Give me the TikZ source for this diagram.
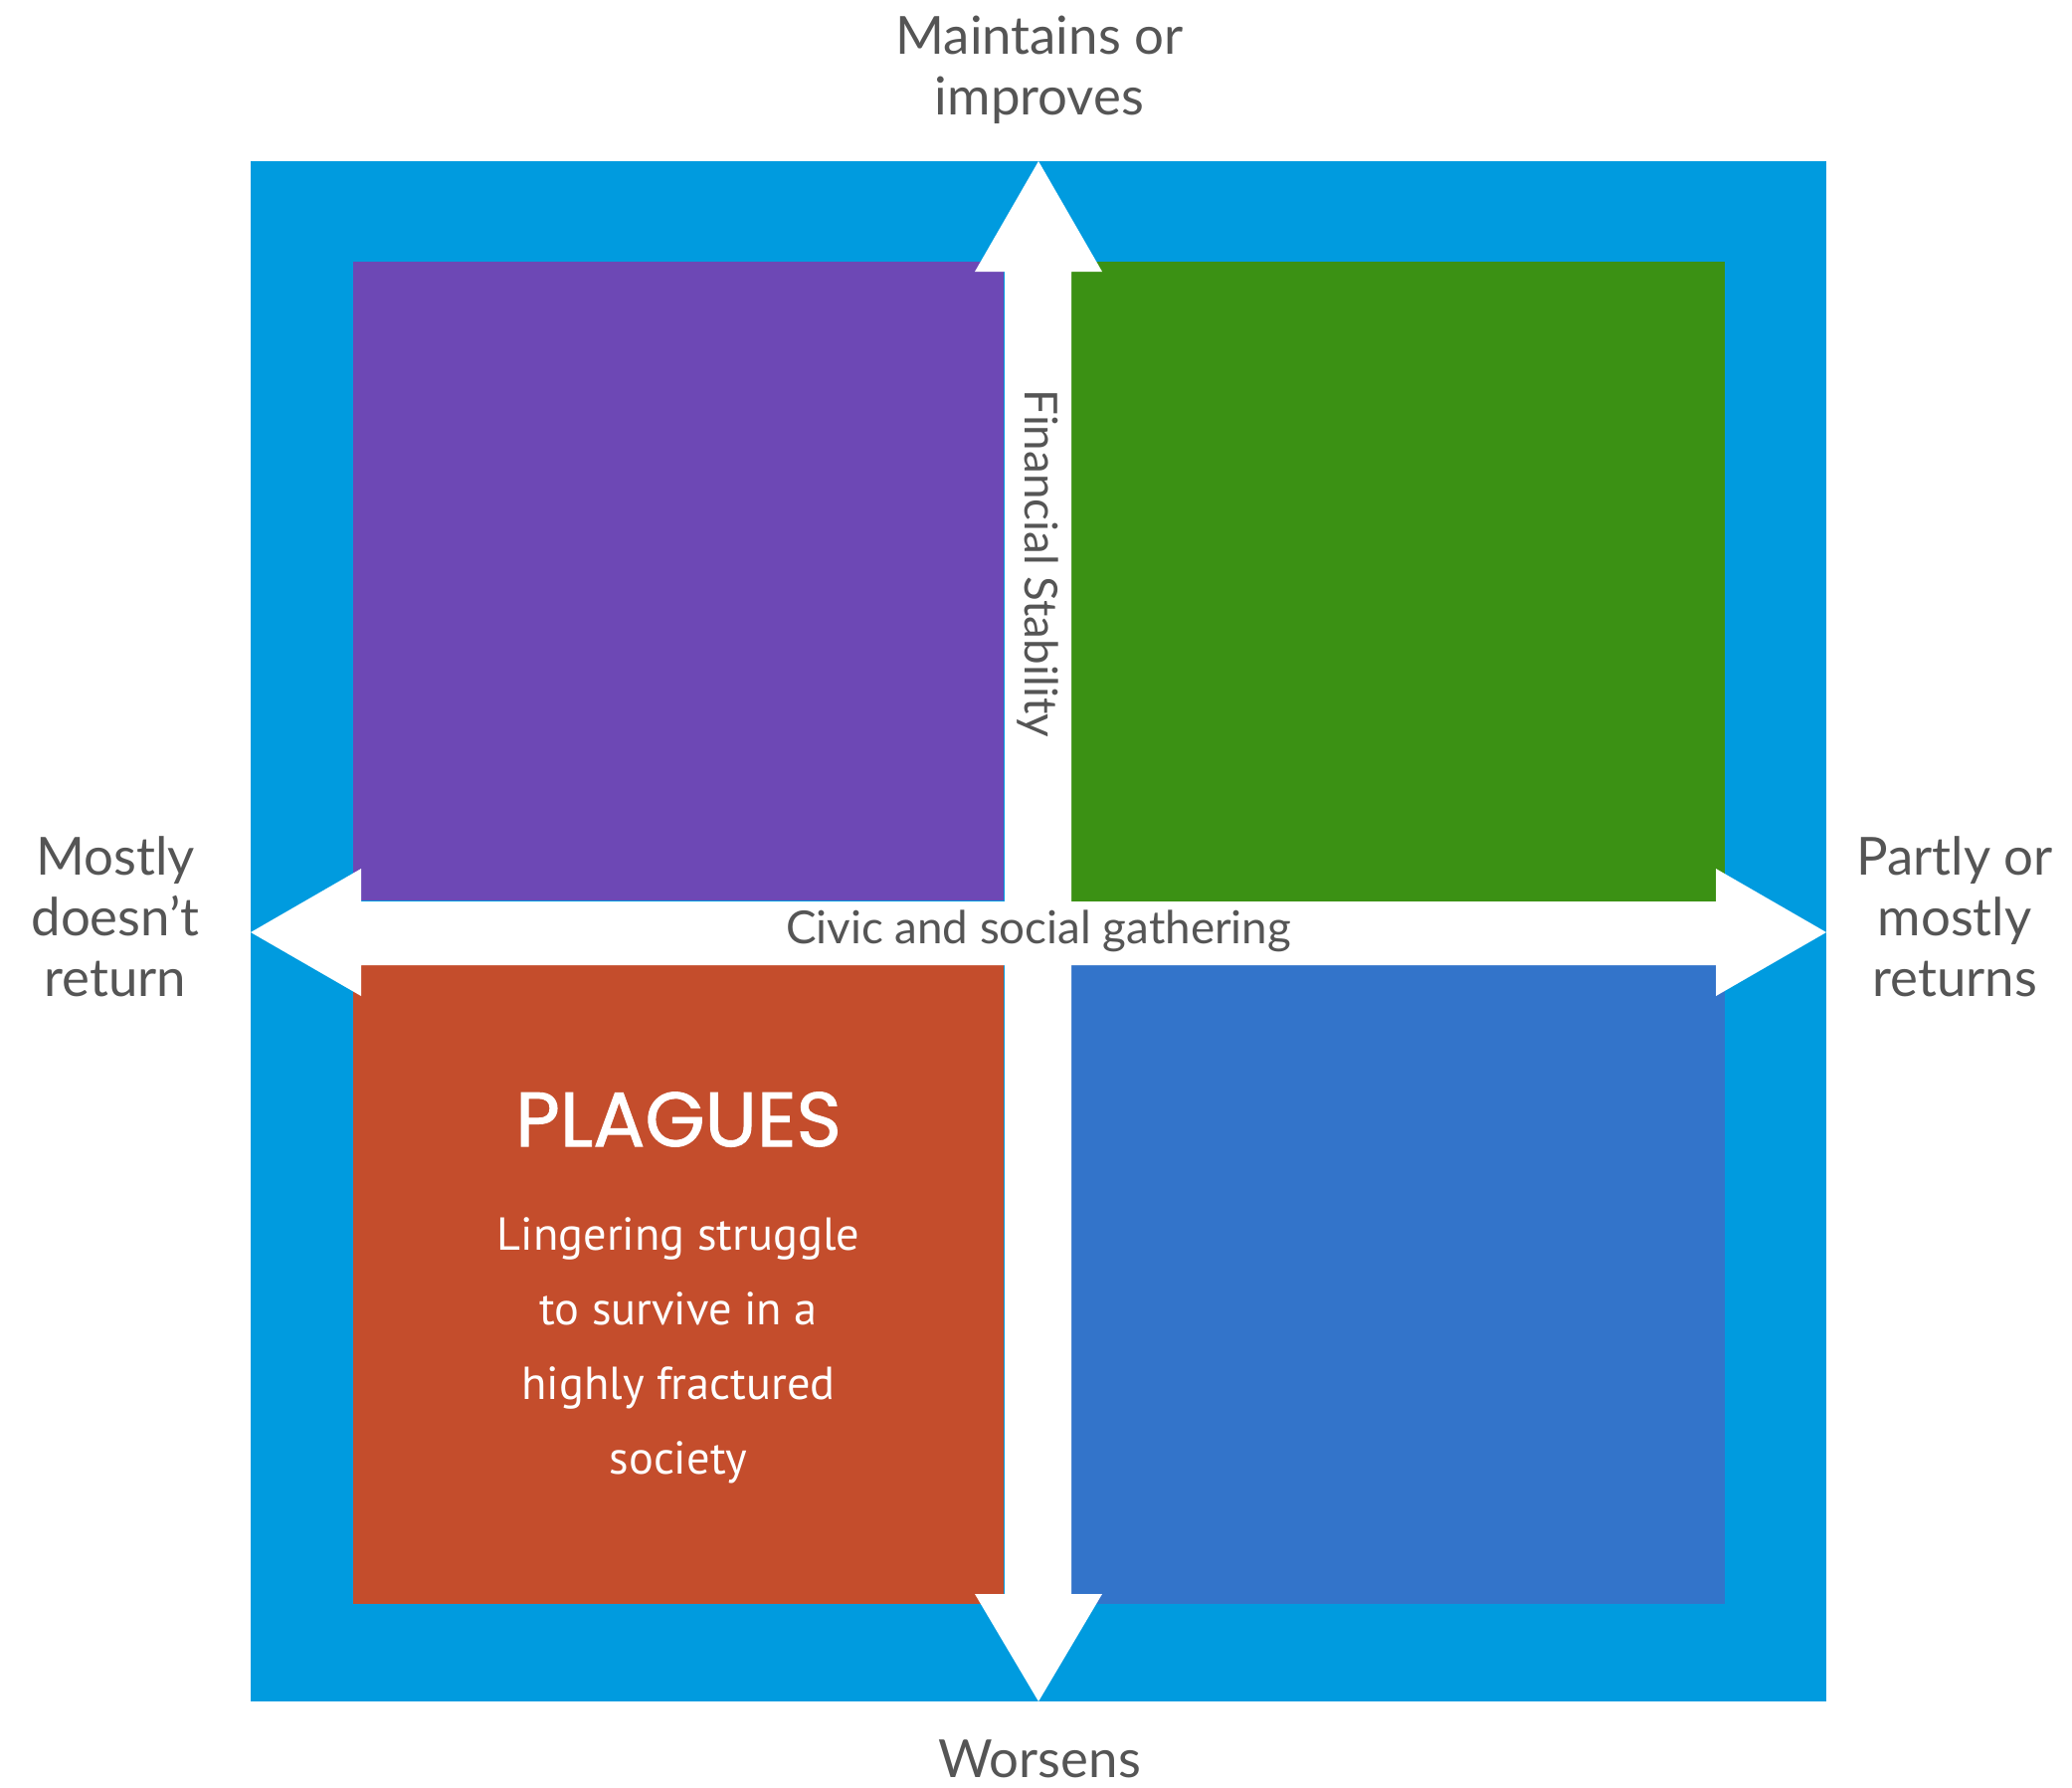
\documentclass[tikz,border=0pt]{standalone}
\usepackage{fontspec}
\setmainfont{Lato}
\newfontfamily\bodyfont{PT Sans}
\newfontfamily\titlefont{Poppins}[FakeBold=1.2]
\definecolor{frameblue}{HTML}{009BDF}
\definecolor{qpurple}{HTML}{6D48B5}
\definecolor{qgreen}{HTML}{3B9114}
\definecolor{qred}{HTML}{C44D2C}
\definecolor{qblue}{HTML}{3374CA}
\definecolor{labelgray}{HTML}{555555}
\begin{document}
\begin{tikzpicture}[x=0.01cm, y=-0.01cm,
  axislabel/.style={text=labelgray, font=\fontsize{15}{17.4}\selectfont, align=center, inner sep=0pt},
  axisname/.style={text=labelgray, font=\fontsize{13}{15}\selectfont, inner sep=0pt},
  arrowshape/.style={fill=white, draw=none}]
\useasboundingbox (0,0) rectangle (2083,1796);

% outer frame
\fill[frameblue] (252,162) rectangle (1836,1710);

% quadrants
\fill[qpurple] (355,263) rectangle (1009,905);
\fill[qgreen]  (1077,263) rectangle (1734,907);
\fill[qred]    (355,970) rectangle (1009,1612);
\fill[qblue]   (1077,970) rectangle (1734,1612);

% vertical double arrow
\fill[arrowshape] (1044,162) -- (1108,273) -- (1077,273) -- (1077,1602) -- (1108,1602)
  -- (1044,1710) -- (980,1602) -- (1010,1602) -- (1010,273) -- (980,273) -- cycle;
% horizontal double arrow
\fill[arrowshape] (252,937) -- (363,873) -- (363,906) -- (1725,906) -- (1725,873)
  -- (1836,937) -- (1725,1001) -- (1725,970) -- (363,970) -- (363,1001) -- cycle;

% axis names
\node[axisname, rotate=-90] (fin) at (1043,566) {Financial Stability};
\node[axisname] (civic) at (1044,936) {Civic and social gathering};

% axis end labels
\node[axislabel] (top) at (1045,70) {Maintains or\\improves};
\node[axislabel] (bottom) at (1045,1768) {Worsens};
\node[axislabel] (left) at (116,921) {Mostly\\doesn’t\\return};
\node[axislabel] (right) at (1965,921) {Partly or\\mostly\\returns};

% scenario text
\node[text=white, inner sep=0pt, font=\titlefont\fontsize{22}{24}\selectfont] (title) at (682,1125) {PLAGUES};
\node[text=white, inner sep=0pt, align=center, font=\bodyfont\fontsize{13.2}{21.3}\selectfont] (desc) at (682,1357)
  {Lingering struggle\\to survive in a\\highly fractured\\society};
\end{tikzpicture}
\end{document}
